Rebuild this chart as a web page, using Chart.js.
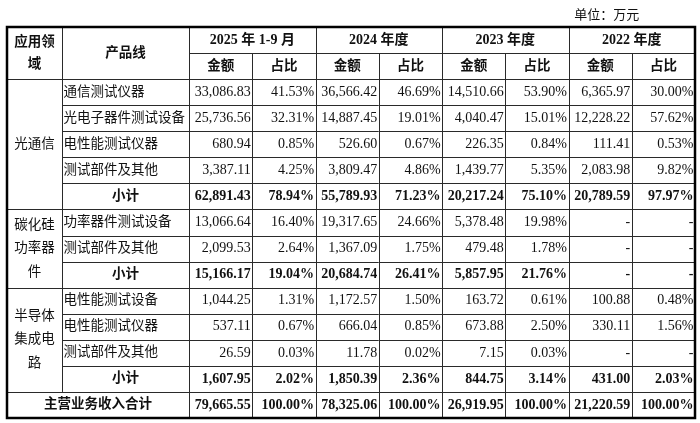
<!DOCTYPE html>
<html>
<head>
<meta charset="utf-8">
<script src="https://cdn.jsdelivr.net/npm/chart.js@4"></script>
<style>
  body { margin: 0; background: #fff; }
  canvas { display: block; }
</style>
</head>
<body>
<canvas id="chart" width="700" height="423"></canvas>
<script>
'use strict';
//table data
var unitLabel = '单位：万元';
var periods = ['2025 年 1-9 月', '2024 年度', '2023 年度', '2022 年度'];
var subHeads = ['金额', '占比'];
var groupLines = [['光通信'], ['碳化硅', '功率器', '件'], ['半导体', '集成电', '路']];
var rowLabels = ['通信测试仪器', '光电子器件测试设备', '电性能测试仪器', '测试部件及其他', '小计',
  '功率器件测试设备', '测试部件及其他', '小计',
  '电性能测试设备', '电性能测试仪器', '测试部件及其他', '小计',
  '主营业务收入合计'];
var rowGroup = [0, 0, 0, 0, 0, 1, 1, 1, 2, 2, 2, 2, -1];
var amount2025 = [33086.83, 25736.56, 680.94, 3387.11, 62891.43, 13066.64, 2099.53, 15166.17, 1044.25, 537.11, 26.59, 1607.95, 79665.55];
var share2025 = [41.53, 32.31, 0.85, 4.25, 78.94, 16.40, 2.64, 19.04, 1.31, 0.67, 0.03, 2.02, 100.00];
var amount2024 = [36566.42, 14887.45, 526.60, 3809.47, 55789.93, 19317.65, 1367.09, 20684.74, 1172.57, 666.04, 11.78, 1850.39, 78325.06];
var share2024 = [46.69, 19.01, 0.67, 4.86, 71.23, 24.66, 1.75, 26.41, 1.50, 0.85, 0.02, 2.36, 100.00];
var amount2023 = [14510.66, 4040.47, 226.35, 1439.77, 20217.24, 5378.48, 479.48, 5857.95, 163.72, 673.88, 7.15, 844.75, 26919.95];
var share2023 = [53.90, 15.01, 0.84, 5.35, 75.10, 19.98, 1.78, 21.76, 0.61, 2.50, 0.03, 3.14, 100.00];
var amount2022 = [6365.97, 12228.22, 111.41, 2083.98, 20789.59, null, null, null, 100.88, 330.11, null, 431.00, 21220.59];
var share2022 = [30.00, 57.62, 0.53, 9.82, 97.97, null, null, null, 0.48, 1.56, null, 2.03, 100.00];

var valueColumns = [amount2025, share2025, amount2024, share2024, amount2023, share2023, amount2022, share2022];

//layout in scale units (x: column edges, y: one unit per row)
var colEdges = [0, 0.87, 2.88, 3.88, 4.88, 5.88, 6.88, 7.88, 8.88, 9.88, 10.88];
var headRows = 2;
var totalRows = headRows + rowLabels.length;
var fontStack = '"Liberation Serif", "Noto Sans CJK SC", serif';

function fmtAmount(v) {
  return v.toFixed(2).replace(/\B(?=(\d{3})+(?!\d))/g, ',');
}
function fmtShare(v) {
  return v.toFixed(2) + '%';
}
function isBoldRow(r) {
  return rowLabels[r] === '小计' || rowGroup[r] === -1;
}

var tablePlugin = {
  id: 'tablePlugin',
  afterDraw: function(chart) {
    var ctx = chart.ctx;
    var x = chart.scales.x;
    var y = chart.scales.y;
    var X = function(v) { return x.getPixelForValue(v); };
    var Y = function(v) { return y.getPixelForValue(v); };

    ctx.save();
    // grid lines
    ctx.strokeStyle = '#2a2a2a';
    ctx.lineWidth = 1;
    function hline(v, from, to) {
      ctx.beginPath();
      ctx.moveTo(X(colEdges[from]), Math.round(Y(v)) + 0.5);
      ctx.lineTo(X(colEdges[to]), Math.round(Y(v)) + 0.5);
      ctx.stroke();
    }
    function vline(i, from, to) {
      ctx.beginPath();
      ctx.moveTo(Math.round(X(colEdges[i])) + 0.5, Y(from));
      ctx.lineTo(Math.round(X(colEdges[i])) + 0.5, Y(to));
      ctx.stroke();
    }
    hline(1, 2, 10);
    hline(2, 0, 10);
    for (var r = 0; r < rowLabels.length - 1; r++) {
      var full = rowGroup[r] !== rowGroup[r + 1];
      hline(headRows + r + 1, full ? 0 : 1, 10);
    }
    vline(1, 0, totalRows - 1);
    for (var c = 2; c < 10; c++) {
      vline(c, c % 2 === 0 ? 0 : 1, totalRows);
    }
    // outer frame
    ctx.lineWidth = 2.5;
    ctx.strokeStyle = '#000';
    ctx.strokeRect(X(0), Y(0), X(colEdges[10]) - X(0), Y(totalRows) - Y(0));

    ctx.fillStyle = '#111';
    ctx.textBaseline = 'middle';

    // unit label
    ctx.font = '13px ' + fontStack;
    ctx.textAlign = 'right';
    ctx.fillText(unitLabel, X(10.0), Y(-0.45));

    // header
    ctx.font = 'bold 14px ' + fontStack;
    ctx.textAlign = 'center';
    var c0 = (colEdges[0] + colEdges[1]) / 2;
    ctx.font = 'bold 13.5px ' + fontStack;
    ctx.fillText('应用领', X(c0), Y(0.6));
    ctx.fillText('域', X(c0), Y(1.44));
    ctx.fillText('产品线', X((colEdges[1] + colEdges[2]) / 2), Y(1));
    periods.forEach(function(p, i) {
      var a = colEdges[2 + i * 2];
      var b = colEdges[4 + i * 2];
      ctx.font = 'bold 14px ' + fontStack;
      ctx.fillText(p, X((a + b) / 2), Y(0.5));
      ctx.font = 'bold 13.5px ' + fontStack;
      subHeads.forEach(function(s, j) {
        ctx.fillText(s, X((colEdges[2 + i * 2 + j] + colEdges[3 + i * 2 + j]) / 2), Y(1.5));
      });
    });

    // group labels
    ctx.font = '13.5px ' + fontStack;
    groupLines.forEach(function(lines, g) {
      var first = rowGroup.indexOf(g);
      var last = rowGroup.lastIndexOf(g);
      var mid = headRows + (first + last + 1) / 2;
      lines.forEach(function(t, k) {
        ctx.fillText(t, X(c0), Y(mid + (k - (lines.length - 1) / 2) * 0.9));
      });
    });

    // rows
    rowLabels.forEach(function(label, r) {
      var yc = Y(headRows + r + 0.5);
      var bold = isBoldRow(r) ? 'bold ' : '';
      ctx.font = bold + '13.5px ' + fontStack;
      if (rowGroup[r] === -1) {
        ctx.textAlign = 'center';
        ctx.fillText(label, X((colEdges[0] + colEdges[2]) / 2), yc);
      } else if (label === '小计') {
        ctx.textAlign = 'center';
        ctx.fillText(label, X((colEdges[1] + colEdges[2]) / 2), yc);
      } else {
        ctx.textAlign = 'left';
        ctx.fillText(label, X(colEdges[1]) + 1.5, yc);
      }
      ctx.font = bold + '14px ' + fontStack;
      ctx.textAlign = 'right';
      valueColumns.forEach(function(col, k) {
        var v = col[r];
        var txt = v === null ? '-' : (k % 2 === 0 ? fmtAmount(v) : fmtShare(v));
        ctx.fillText(txt, X(colEdges[3 + k]) - 1.5, yc);
      });
    });
    ctx.restore();
  }
};

new Chart(document.getElementById('chart').getContext('2d'), {
  type: 'scatter',
  data: { datasets: [] },
  options: {
    responsive: false,
    animation: false,
    layout: { padding: { left: 7, right: 5, top: 27, bottom: 5 } },
    plugins: { legend: { display: false }, tooltip: { enabled: false } },
    scales: {
      x: { type: 'linear', min: 0, max: colEdges[10], display: false },
      y: { type: 'linear', min: 0, max: totalRows, reverse: true, display: false }
    }
  },
  plugins: [tablePlugin]
});
</script>
</body>
</html>
